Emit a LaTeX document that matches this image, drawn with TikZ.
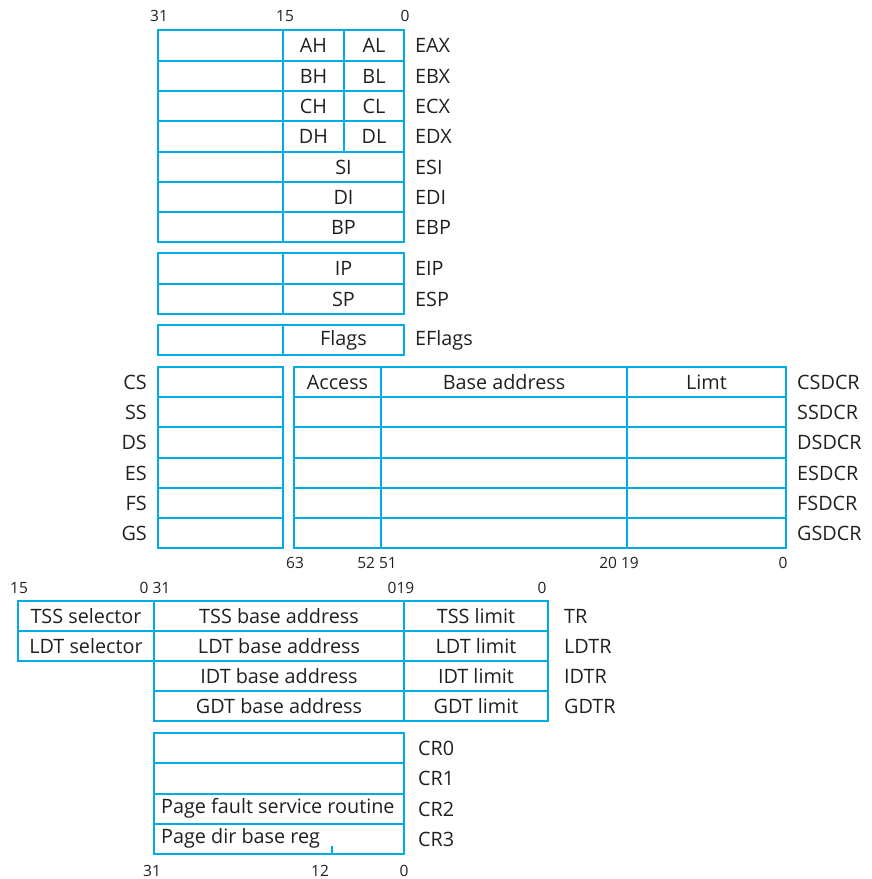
\documentclass[tikz,border=0pt]{standalone}
\usepackage{fontspec}
\setmainfont{Open Sans}
\definecolor{regline}{RGB}{0,172,232}
\definecolor{txt}{RGB}{35,31,32}
\tikzset{
  x=1pt, y=-1pt,
  cell/.style={draw=regline, line width=1.6pt, rectangle, inner sep=0pt, outer sep=0pt, anchor=north west, font=\fontsize{19.8}{22}\selectfont, text=txt},
  lbl/.style={inner sep=0pt, font=\fontsize{19.8}{22}\selectfont, text=txt},
  bitnum/.style={inner sep=0pt, font=\fontsize{15.5}{17}\selectfont, text=txt},
}
% \cellnode{name}{x1}{y1}{x2}{y2}{text}
\newcommand{\cellnode}[6]{%
  \pgfmathsetmacro{\cw}{#4-#2}\pgfmathsetmacro{\ch}{#5-#3}%
  \node[cell, minimum width=\cw pt, minimum height=\ch pt] (#1) at (#2,#3) {#6};}
\begin{document}
\begin{tikzpicture}
\useasboundingbox (0,0) rectangle (872,879);
% top numbers
\node[bitnum] (t31) at (159,16) {31};
\node[bitnum] (t15) at (285,16) {15};
\node[bitnum] (t0) at (405,16) {0};
% general registers
\foreach \nm/\ya/\yb/\hi/\lo/\lab in {a/30/61/AH/AL/EAX, b/61/91/BH/BL/EBX, c/91/121/CH/CL/ECX, d/121/152/DH/DL/EDX}{
  \cellnode{\nm u}{158}{\ya}{283}{\yb}{}
  \cellnode{\nm h}{283}{\ya}{344}{\yb}{\hi}
  \cellnode{\nm l}{344}{\ya}{404}{\yb}{\lo}
  \node[lbl, anchor=west] (\nm lab) at (415,{(\ya+\yb)/2}) {\lab};
}
\foreach \nm/\ya/\yb/\lo/\lab in {si/152/182/SI/ESI, di/182/212/DI/EDI, bp/212/242/BP/EBP, ip/253/284/IP/EIP, sp/284/314/SP/ESP, fl/325/355/Flags/EFlags}{
  \cellnode{\nm u}{158}{\ya}{283}{\yb}{}
  \cellnode{\nm l}{283}{\ya}{404}{\yb}{\lo}
  \node[lbl, anchor=west] (\nm lab) at (415,{(\ya+\yb)/2}) {\lab};
}
% segment registers and descriptor caches
\foreach \nm/\ya/\yb/\acc/\bas/\lim in {cs/367/397/Access/Base address/Limt, ss/397/427///, ds/427/458///, es/458/488///, fs/488/518///, gs/518/548///}{
  \cellnode{\nm sel}{158}{\ya}{283}{\yb}{}
  \cellnode{\nm acc}{294}{\ya}{381}{\yb}{\acc}
  \cellnode{\nm base}{381}{\ya}{627}{\yb}{\bas}
  \cellnode{\nm lim}{627}{\ya}{786}{\yb}{\lim}
}
\foreach \nm/\ya/\yb/\s in {cs/367/397/CS, ss/397/427/SS, ds/427/458/DS, es/458/488/ES, fs/488/518/FS, gs/518/548/GS}{
  \node[lbl, anchor=east] (\nm lab) at (147,{(\ya+\yb)/2}) {\s};
  \node[lbl, anchor=west] (\nm dlab) at (797,{(\ya+\yb)/2}) {\s DCR};
}
\node[bitnum] (s63) at (295,563) {63};
\node[bitnum] (s52) at (377,563) {52 51};
\node[bitnum] (s20) at (619,563) {20 19};
\node[bitnum] (s0) at (783,563) {0};
% system address registers
\node[bitnum] (r15) at (19,588) {15};
\node[bitnum] (r031) at (155,588) {0 31};
\node[bitnum] (r019) at (401,588) {019};
\node[bitnum] (r0) at (542,588) {0};
\foreach \nm/\ya/\yb/\t/\lab in {tss/601/631/TSS/TR, ldt/631/661/LDT/LDTR}{
  \cellnode{\nm sel}{18}{\ya}{154}{\yb}{\t\ selector}
}
\foreach \nm/\ya/\yb/\t/\lab in {tss/601/631/TSS/TR, ldt/631/661/LDT/LDTR, idt/661/691/IDT/IDTR, gdt/691/721/GDT/GDTR}{
  \cellnode{\nm base}{154}{\ya}{404}{\yb}{\t\ base address}
  \cellnode{\nm lim}{404}{\ya}{548}{\yb}{\t\ limit}
  \node[lbl, anchor=west] (\nm lab) at (564,{(\ya+\yb)/2}) {\lab};
}
% control registers
\cellnode{cr0}{154}{733}{404}{763}{}
\cellnode{cr1}{154}{763}{404}{794}{}
\cellnode{cr2}{154}{794}{404}{824}{}
\cellnode{cr3}{154}{824}{404}{854}{}
\node[lbl, anchor=west] (cr2txt) at (161,808) {Page fault service routine};
\node[lbl, anchor=west] (cr3txt) at (161,838) {Page dir base reg};
\coordinate (tickb) at (332,854);
\draw[regline, line width=1.6pt] (tickb) -- ++(0,-8);
\foreach \i/\ya/\yb in {0/733/763, 1/763/794, 2/794/824, 3/824/854}{
  \node[lbl, anchor=west] (cr\i lab) at (418,{(\ya+\yb)/2}) {CR\i};
}
\node[bitnum] (c31) at (152,871) {31};
\node[bitnum] (c12) at (320,871) {12};
\node[bitnum] (c0) at (404,871) {0};
\end{tikzpicture}
\end{document}
